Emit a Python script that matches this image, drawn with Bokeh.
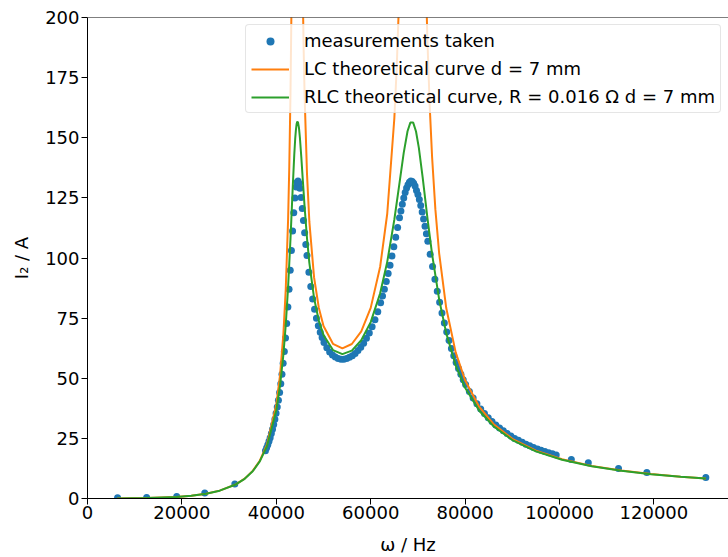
from bokeh.plotting import figure
from bokeh.models import FixedTicker, Span, Legend
from bokeh.embed import file_html
from bokeh.resources import INLINE

# ---------------- data ----------------
omega_meas = [6370, 12530, 18900, 24840, 31210,
              37700, 37950, 38200, 38450, 38700, 38950, 39200, 39450, 39700, 39950,
              40200, 40450, 40700, 40950, 41200, 41450, 41700, 41950, 42200, 42450,
              42700, 42950, 43200, 43450, 43700, 43950, 44200, 44400, 44600, 44800,
              45000, 45250, 45500, 45750, 46000, 46250, 46500, 46900, 47300, 47700,
              48100, 48500, 48900, 49300, 49700, 50100, 50700, 51300, 51900, 52500,
              53100, 53700, 54300, 54900, 55500, 56100, 56700, 57300, 57900, 58500,
              59100, 59700, 60300, 60900, 61500, 62100, 62500, 62900, 63300, 63700,
              64100, 64500, 64900, 65300, 65700, 66100, 66400, 66700, 67000, 67300,
              67600, 67900, 68200, 68500, 68800, 69100, 69400, 69700, 70000, 70300,
              70600, 70900, 71200, 71500, 71800, 72100, 72600, 73100, 73600, 74100,
              74600, 75100, 75600, 76100, 76600, 77100, 77600, 78100, 78600, 79100,
              79600, 80100, 80900, 81700, 82500, 83300, 84100, 84900, 85700, 86500,
              87300, 88100, 88900, 89700, 90500, 91300, 92100, 92900, 93700, 94500,
              95300, 96100, 96900, 97700, 98500, 99300,
              102500, 106100, 112500, 118500, 131000]
current_meas = [0.3, 0.4, 0.8, 2.3, 6.0,
                19.9, 21.1, 22.4, 23.8, 25.3, 27.0, 28.8, 30.8, 33.0, 35.4,
                38.0, 40.9, 44.1, 47.7, 51.7, 56.2, 61.1, 66.7, 72.8, 79.6,
                87.0, 94.9, 103.1, 111.2, 118.8, 125.0, 129.5, 131.5, 132.0, 131.1,
                129.0, 125.2, 120.6, 115.6, 110.5, 105.6, 101.0, 94.1, 88.2, 83.0,
                78.7, 75.0, 71.8, 69.1, 66.9, 64.9, 62.7, 60.9, 59.7, 58.8,
                58.2, 57.9, 57.9, 58.2, 58.7, 59.4, 60.3, 61.5, 62.9, 64.6,
                66.6, 68.8, 71.4, 74.3, 77.6, 81.4, 84.2, 87.0, 90.2, 93.6,
                97.0, 100.8, 104.7, 108.6, 112.7, 116.7, 119.5, 122.3, 124.9, 127.2,
                129.1, 130.5, 131.5, 132.0, 131.8, 131.1, 129.9, 128.1, 126.4, 124.3,
                121.8, 119.1, 116.2, 113.2, 110.1, 107.0, 101.6, 96.5, 91.2, 86.2,
                81.6, 77.1, 73.0, 69.2, 65.7, 62.4, 59.4, 56.6, 54.1, 51.7,
                49.4, 47.4, 44.5, 41.8, 39.4, 37.2, 35.3, 33.6, 32.0, 30.6,
                29.3, 28.2, 27.0, 26.0, 25.0, 24.2, 23.4, 22.6, 21.9, 21.2,
                20.6, 20.1, 19.5, 19.0, 18.6, 18.1,
                16.2, 14.9, 12.5, 10.8, 8.7]

omega_lc = [6283, 12566, 18850, 21990, 25133, 28000, 31416, 33300, 35000, 36500,
            38000, 40000, 40800, 41500, 42000, 42500, 42750, 43000, 43200, 43500,
            43800, 44000, 44150, 44450, 44600, 44800, 45000, 45300, 45600, 45800,
            46000, 46500, 47000, 48000, 49000, 50000, 52000, 54000, 56000, 58000,
            60000, 62000, 63500, 65000, 65500, 66000, 66500, 67000, 67800, 68400,
            69600, 70200, 71000, 71500, 72000, 72500, 73000, 73700, 74500, 76000,
            78000, 80000, 83000, 86000, 90000, 95000, 100531, 106814, 113097, 119381,
            125664, 131000]
current_lc = [0.019, 0.167, 0.660, 1.173, 2.016, 3.269, 5.878, 8.267, 11.48, 15.71,
              22.27, 38.99, 51.41, 68.36, 86.96, 116.1, 137.9, 168.0, 202.1, 285.5,
              469.5, 797.6, 1623, 1639, 833.6, 510.1, 371.1, 267.0, 210.9, 186.1,
              167.2, 135.1, 115.1, 91.94, 79.31, 71.76, 64.32, 62.45, 64.25, 69.52,
              79.26, 96.36, 118.4, 157.9, 178.8, 206.8, 246.0, 304.8, 501.5, 991,
              987, 488.7, 290.2, 230.9, 191.4, 163.2, 142.1, 120.2, 101.97, 79.19,
              60.76, 49.15, 38.08, 31.01, 24.83, 19.87, 16.29, 13.54, 11.61, 10.18,
              9.08, 8.33]

omega_rlc = [6283, 12566, 18850, 21990, 25133, 28000, 31416, 33300, 35000, 36500,
             38000, 40000, 40800, 41500, 42000, 42500, 43000, 43500, 43800, 44000,
             44150, 44300, 44450, 44600, 44800, 45000, 45300, 45600, 46000, 46500,
             47000, 48000, 49000, 50000, 52000, 54000, 56000, 58000, 60000, 62000,
             63500, 65000, 66000, 67000, 67800, 68400, 69000, 69600, 70200, 71000,
             72000, 73000, 74500, 76000, 78000, 80000, 83000, 86000, 90000, 95000,
             100531, 106814, 113097, 119381, 125664, 131000]
current_rlc = [0.019, 0.167, 0.660, 1.17, 2.016, 3.255, 5.837, 8.187, 11.32, 15.41,
               21.63, 36.69, 47.04, 59.84, 72.15, 87.98, 107.8, 130.2, 142.7, 149.5,
               153.2, 155.7, 156.7, 156.4, 154.1, 150.0, 141.9, 132.8, 121.1, 108.3,
               98.0, 83.30, 73.98, 67.97, 61.71, 60.04, 61.50, 65.78, 73.34, 85.33,
               98.39, 115.9, 129.8, 143.8, 152.7, 156.3, 156.3, 152.6, 145.8, 133.6,
               116.9, 101.6, 82.77, 68.75, 55.38, 46.02, 36.47, 30.07, 24.30, 19.58,
               16.12, 13.43, 11.54, 10.13, 9.04, 8.31]

x_ticks = [0, 20000, 40000, 60000, 80000, 100000, 120000]
x_tick_labels = ["0", "20000", "40000", "60000", "80000", "100000", "120000"]
y_ticks = [0, 25, 50, 75, 100, 125, 150, 175, 200]

label_meas = "measurements taken"
label_lc = "LC theoretical curve d = 7 mm"
label_rlc = "RLC theoretical curve, R = 0.016 \u03a9 d = 7 mm"

BLUE = "#1f77b4"
ORANGE = "#ff7f0e"
GREEN = "#2ca02c"
FONT = "DejaVu Sans"
FSIZE = "18px"

# ---------------- figure ----------------
p = figure(width=728, height=557, x_range=(0, 135800), y_range=(0, 200),
           output_backend="svg", toolbar_location=None,
           min_border_left=87, min_border_right=0, min_border_top=17, min_border_bottom=58)
p.background_fill_color = "white"
p.border_fill_color = "white"
p.outline_line_color = None
p.xgrid.grid_line_color = None
p.ygrid.grid_line_color = None

p.scatter(omega_meas, current_meas, size=7, marker="circle",
          fill_color=BLUE, line_color=None, legend_label=label_meas)
p.line(omega_lc, current_lc, line_width=2, line_color=ORANGE, legend_label=label_lc)
p.line(omega_rlc, current_rlc, line_width=2, line_color=GREEN, legend_label=label_rlc)

# top spine
p.add_layout(Span(location=200, dimension="width", line_color="black", line_width=1))

xa = p.xaxis[0]
ya = p.yaxis[0]
xa.ticker = FixedTicker(ticks=x_ticks)
xa.major_label_overrides = {t: s for t, s in zip(x_ticks, x_tick_labels)}
ya.ticker = FixedTicker(ticks=y_ticks)
xa.axis_label = "\u03c9 / Hz"
ya.axis_label = "I\u2082 / A"
for ax in (xa, ya):
    ax.axis_line_color = "black"
    ax.axis_line_width = 1
    ax.major_tick_line_color = "black"
    ax.major_tick_out = 6
    ax.major_tick_in = 0
    ax.minor_tick_line_color = None
    ax.major_label_text_font = FONT
    ax.major_label_text_font_size = FSIZE
    ax.major_label_text_color = "black"
    ax.axis_label_text_font = FONT
    ax.axis_label_text_font_size = FSIZE
    ax.axis_label_text_font_style = "normal"
    ax.axis_label_text_color = "black"
xa.major_label_standoff = 1
xa.axis_label_standoff = 12
ya.major_label_standoff = 2
ya.axis_label_standoff = 10

leg = p.legend[0]
leg.location = (158, 385)
leg.label_text_font = FONT
leg.label_text_font_size = FSIZE
leg.label_text_color = "black"
leg.glyph_width = 38
leg.glyph_height = 20
leg.label_height = 20
leg.label_standoff = 15
leg.padding = 5
leg.spacing = 7
leg.margin = 0
leg.border_line_color = "#cccccc"
leg.border_line_width = 1
leg.background_fill_color = "white"
leg.background_fill_alpha = 0.8
if "border_radius" in Legend.properties():
    leg.border_radius = 4

open("out.html", "w").write(file_html(p, INLINE))
